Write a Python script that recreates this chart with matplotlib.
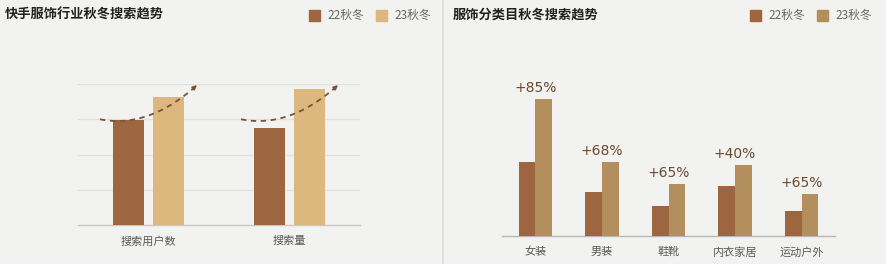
import numpy as np
import matplotlib.pyplot as plt
from matplotlib.patches import Rectangle

plt.rcParams['font.family'] = ['Noto Sans CJK SC', 'DejaVu Sans']

# 左图: 行业搜索趋势
left_title = '快手服饰行业秋冬搜索趋势'
left_cats = ['搜索用户数', '搜索量']
left_22 = [2.98, 2.75]
left_23 = [3.63, 3.86]

# 右图: 分类目搜索趋势
right_title = '服饰分类目秋冬搜索趋势'
right_cats = ['女装', '男装', '鞋靴', '内衣家居', '运动户外']
right_22 = [74, 44, 30, 50, 25]
right_23 = [137, 74, 52, 71, 42]
right_growth = ['+85%', '+68%', '+65%', '+40%', '+65%']

series_names = ['22秋冬', '23秋冬']

bg = '#f2f2f0'
c22 = '#9d6640'
c23_left = '#dcb87e'
c23_right = '#b48f5e'
tick_color = '#5a5a5a'

W, H = 886, 264
fig = plt.figure(figsize=(W / 100, H / 100), dpi=100)
fig.patch.set_facecolor(bg)

# 中间分隔线
fig.add_artist(plt.Line2D([443 / W, 443 / W], [0, 1], color='#dcdcdc', lw=1.2))


def legend(x0, colors):
    # 右上角图例, x0 为像素坐标
    xs = [x0, x0 + 67]
    for x, col, name in zip(xs, colors, series_names):
        fig.add_artist(Rectangle((x / W, 1 - 21 / H), 11 / W, 11 / H,
                                 transform=fig.transFigure, color=col))
        fig.text((x + 18) / W, 1 - 15.5 / H, name, fontsize=8.5, color='#666666',
                 va='center', ha='left')


# ---- 左图 ----
fig.text(5 / W, 1 - 15 / H, left_title, fontsize=9.5, fontweight='bold',
         color='#222222', va='center', ha='left')
legend(309, [c22, c23_left])

ax1 = fig.add_axes([78 / W, 39 / H, 282 / W, 141 / H])
ax1.set_facecolor('none')
x = np.arange(len(left_cats))
bw = 0.22
off = 0.142
ax1.bar(x - off, left_22, bw, color=c22, zorder=3)
ax1.bar(x + off, left_23, bw, color=c23_left, zorder=3)
ax1.set_xlim(-0.5, 1.5)
ax1.set_ylim(0, 4)
ax1.set_yticks([1, 2, 3, 4])
ax1.yaxis.grid(True, color='#e0e0e0', lw=0.9, zorder=0)
ax1.tick_params(axis='y', length=0, labelleft=False)
ax1.set_xticks(x)
ax1.set_xticklabels(left_cats, fontsize=8, color=tick_color)
ax1.tick_params(axis='x', length=0, pad=8)
for s in ['top', 'right', 'left']:
    ax1.spines[s].set_visible(False)
ax1.spines['bottom'].set_color('#c8c8c8')
ax1.spines['bottom'].set_linewidth(1)

# 上升趋势虚线箭头
for c in x:
    xs = np.linspace(c - 0.344, c + 0.344, 60)
    xv = c - 0.22
    ys = 2.95 + 3.2 * (xs - xv) ** 2
    ax1.plot(xs[:-3], ys[:-3], color='#7a5238', lw=1.3, ls=(0, (3, 2.5)),
             clip_on=False, zorder=4)
    ax1.annotate('', xy=(xs[-1], ys[-1]), xytext=(xs[-4], ys[-4]),
                 arrowprops=dict(arrowstyle='-|>', color='#7a5238', lw=1.2,
                                 mutation_scale=6, shrinkA=0, shrinkB=0),
                 annotation_clip=False, zorder=4)

# ---- 右图 ----
fig.text(453 / W, 1 - 15 / H, right_title, fontsize=9.5, fontweight='bold',
         color='#222222', va='center', ha='left')
legend(750, [c22, c23_right])

ax2 = fig.add_axes([502 / W, 28 / H, 333 / W, 152 / H])
ax2.set_facecolor('none')
x2 = np.arange(len(right_cats))
bw2 = 0.25
ax2.bar(x2 - bw2 / 2, right_22, bw2, color=c22, zorder=3)
ax2.bar(x2 + bw2 / 2, right_23, bw2, color=c23_right, zorder=3)
for xi, v, g in zip(x2, right_23, right_growth):
    ax2.annotate(g, xy=(xi, v), xytext=(0, 3), textcoords='offset points',
                 ha='center', va='bottom', fontsize=10, color='#6b4a2e',
                 family='DejaVu Sans')
ax2.set_xlim(-0.5, 4.5)
ax2.set_ylim(0, 152)
ax2.set_yticks([])
ax2.set_xticks(x2)
ax2.set_xticklabels(right_cats, fontsize=8, color=tick_color)
ax2.tick_params(axis='x', length=0, pad=8)
for s in ['top', 'right', 'left']:
    ax2.spines[s].set_visible(False)
ax2.spines['bottom'].set_color('#b8b8b8')
ax2.spines['bottom'].set_linewidth(1)

fig.savefig('out.png', dpi=100, facecolor=bg)
